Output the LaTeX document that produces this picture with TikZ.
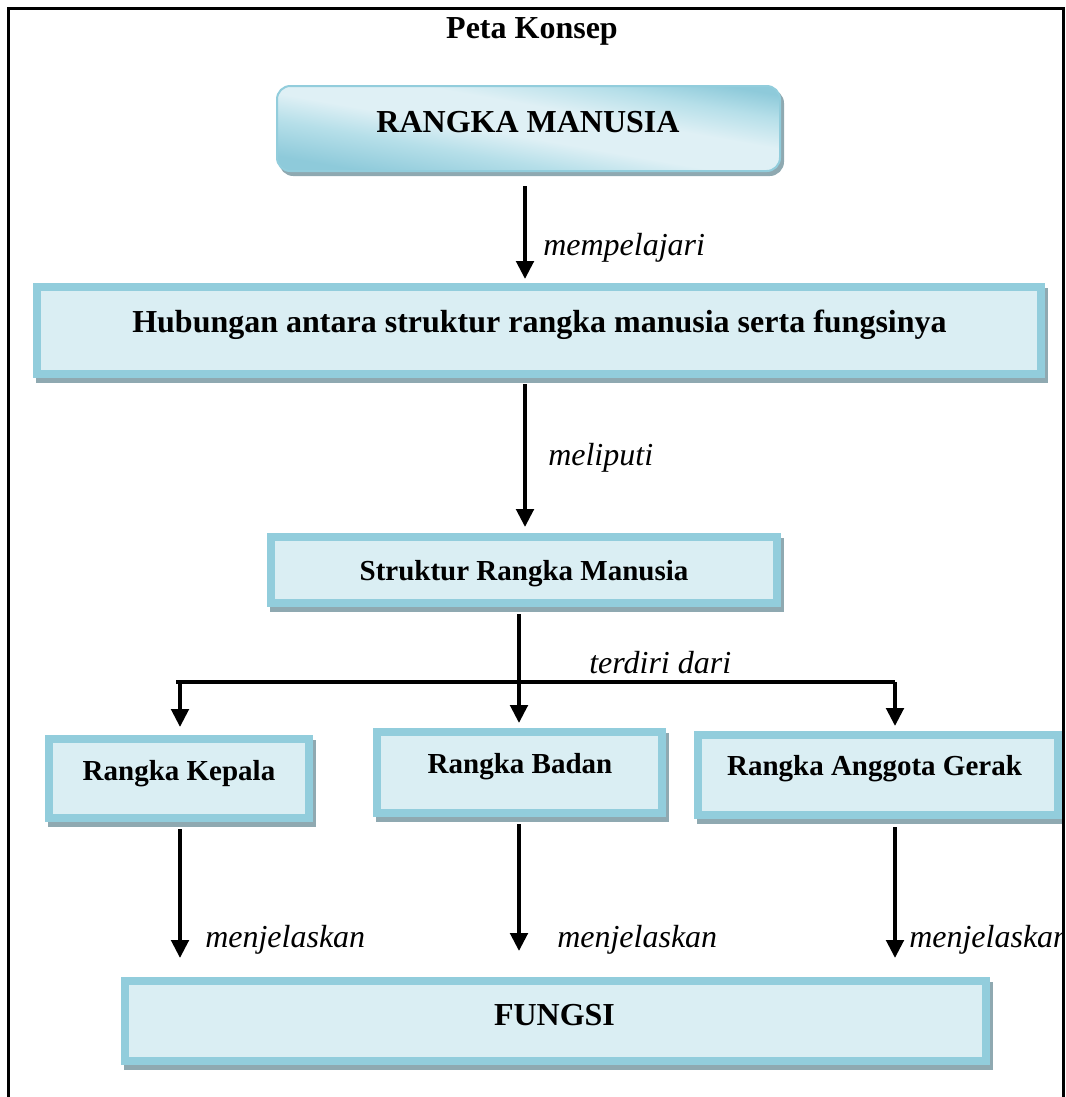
\documentclass[tikz,border=0pt]{standalone}
\usepackage{fontspec}
\setmainfont{Liberation Serif}
\usetikzlibrary{arrows.meta,calc}
\definecolor{bordc}{HTML}{92CDDC}
\definecolor{fillc}{HTML}{DAEEF3}
\definecolor{shadc}{HTML}{8FA9B1}
\definecolor{topdark}{HTML}{8ECADA}
\definecolor{topmid}{HTML}{B6DFE9}
\definecolor{toplight}{HTML}{DFF0F5}
\pgfdeclareverticalshading{topshade}{100bp}{color(0bp)=(topdark); color(26bp)=(topdark); color(38bp)=(topmid); color(47bp)=(toplight); color(58bp)=(toplight); color(68bp)=(topmid); color(76bp)=(topdark); color(100bp)=(topdark)}
\tikzset{
  bigtxt/.style={font=\fontsize{24}{28}\selectfont\bfseries, anchor=base, inner sep=0pt},
  smalltxt/.style={font=\fontsize{21.75}{26}\selectfont\bfseries, anchor=base, inner sep=0pt},
  lbl/.style={font=\fontsize{24}{28}\selectfont\itshape, anchor=base west, inner sep=0pt},
  box/.style={rectangle, draw=bordc, fill=fillc, line width=6pt, inner sep=0pt,
    preaction={draw=shadc, fill=shadc, line width=6pt, transform canvas={shift={(3,5)}}}},
  topbox/.style={rectangle, rounded corners=10pt, draw=bordc, line width=1.5pt, inner sep=0pt,
    preaction={draw=shadc, fill=shadc, line width=1.5pt, transform canvas={shift={(3,4)}}},
    shade, shading=topshade, shading angle=-10},
  arr/.style={line width=3pt, -{Triangle[width=13pt,length=13.5pt]}},
  conn/.style={line width=2.6pt},
  frame/.style={line width=2.25pt},
}
\begin{document}
\begin{tikzpicture}[x=0.75pt,y=-0.75pt]
\useasboundingbox (0,0) rectangle (1065,1097);
\clip (0,0) rectangle (1065,1097);

% title
\node[bigtxt] (title) at (532,38) {Peta Konsep};

% boxes
\node[topbox, minimum width=377.25pt, minimum height=63.75pt] (top) at (528.5,128.5) {};
\node[bigtxt] (ttop) at (528,132) {RANGKA MANUSIA};

\node[box, minimum width=753pt, minimum height=65.25pt] (b2) at (539,330.5) {};
\node[bigtxt] (tb2) at (539.5,332) {Hubungan antara struktur rangka manusia serta fungsinya};

\node[box, minimum width=379.5pt, minimum height=49.5pt] (b3) at (524,570) {};
\node[smalltxt] (tb3) at (524,580) {Struktur Rangka Manusia};

\node[box, minimum width=195pt, minimum height=59.25pt] (kepala) at (179,778.5) {};
\node[smalltxt] (tkepala) at (179,780) {Rangka Kepala};

\node[box, minimum width=213.75pt, minimum height=60.75pt] (badan) at (519.5,772.5) {};
\node[smalltxt] (tbadan) at (520,773) {Rangka Badan};

\node[box, minimum width=270pt, minimum height=60pt] (gerak) at (878,775) {};
\node[smalltxt] (tgerak) at (874.5,775) {Rangka Anggota Gerak};

\node[box, minimum width=645.75pt, minimum height=60pt] (fungsi) at (555.5,1021) {};
\node[bigtxt] (tfungsi) at (554.5,1025) {FUNGSI};

% connectors
\draw[arr] ($(top.south)+(-3.5,14)$) -- ($(b2.north)+(-14,-4)$);
\node[lbl] (l1) at (543,255) {mempelajari};

\draw[arr] ($(b2.south)+(-14,6)$) -- ($(b3.north)+(1,-6)$);
\node[lbl] (l2) at (548,465) {meliputi};

\coordinate (hl) at (180,682);
\coordinate (hr) at (895,682);
\draw[arr] ($(b3.south)+(-5,7)$) -- ($(badan.north)+(-0.5,-5)$);
\draw[conn] ($(hl)+(-4,0)$) -- (hr);
\draw[arr] (hl) -- ($(kepala.north -| hl)+(0,-8)$);
\draw[arr] (hr) -- ($(gerak.north -| hr)+(0,-5)$);
\node[lbl] (l3) at (589,673) {terdiri dari};

\draw[arr] ($(kepala.south)+(1,7)$) -- ($(kepala.south |- fungsi.north)+(1,-19)$);
\draw[arr] ($(badan.south)+(-0.5,7)$) -- ($(badan.south |- fungsi.north)+(-0.5,-26)$);
\draw[arr] ($(gerak.south)+(17,8)$) -- ($(gerak.south |- fungsi.north)+(17,-19)$);
\node[lbl] (l4) at (205,947) {menjelaskan};
\node[lbl] (l5) at (557,947) {menjelaskan};
\begin{scope}
\clip (0,0) rectangle (1063,1097);
\node[lbl] (l6) at (909,947) {menjelaskan};
\end{scope}

% frame
\draw[frame] (8,1110) -- (8,8) -- (1063,8) -- (1063,1110);
\end{tikzpicture}
\end{document}
